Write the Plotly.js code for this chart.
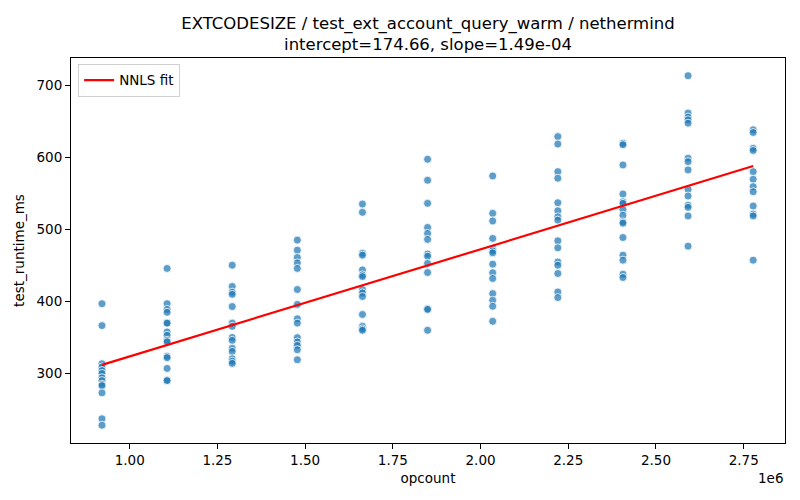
<!DOCTYPE html>
<html>
<head>
<meta charset="utf-8">
<script src="https://cdn.plot.ly/plotly-3.0.1.min.js"></script>
<style>
  html, body { margin: 0; padding: 0; background: #fff; }
  #chart { width: 800px; height: 500px; }
</style>
</head>
<body>
<div id="chart"></div>
<script>
// opcount levels (one column of runs each)
let opcounts = [921000, 1106600, 1292200, 1477800, 1663400, 1849000,
                2034600, 2220200, 2405800, 2591400, 2777000];

// test_runtime_ms per opcount level
let runtimes = [
    [397, 366.5, 313.5, 309, 304, 300, 294, 290, 285, 283, 273, 237, 228],
    [446, 397, 389, 385, 370, 370, 357.6, 353, 346, 344, 324, 322, 307, 291, 290],
    [450.5, 421, 413, 410, 393, 370, 365.5, 350, 346, 335, 330.6, 320.5, 317, 314],
    [485.4, 471.4, 461.2, 453.7, 446, 416.7, 396, 376, 370, 349.8, 343.7, 339, 333, 319],
    [535.5, 524, 467, 464.5, 444, 437, 434.7, 416.7, 412, 407, 382, 365.5, 362, 360],
    [597.8, 568.6, 536.5, 503, 494.7, 486.4, 466, 463, 453, 440.3, 390, 389, 360],
    [574.6, 522.6, 512, 487.7, 473.8, 470.4, 467.7, 452, 440, 432, 411, 401.7, 393.4, 372.5],
    [629.3, 619, 580.6, 571.4, 537.4, 526.2, 517.8, 513.2, 484.4, 474.6, 455, 450.5, 439, 413.3, 405.5],
    [620, 618, 589.9, 549.5, 538.7, 536.5, 528, 520, 510.8, 509, 489, 464.5, 457.5, 438, 433.4],
    [714, 662, 656.4, 652.6, 648, 599.2, 594.5, 583, 556, 546.7, 534, 531, 519, 477],
    [638.7, 635, 613, 610, 580.6, 570, 559.7, 552.7, 532.8, 521.6, 519, 457.5]
];

// NNLS fit from the title
let intercept = 174.66;
let slope = 1.49e-4;

let tickVals = [1.0e6, 1.25e6, 1.5e6, 1.75e6, 2.0e6, 2.25e6, 2.5e6, 2.75e6];
let tickText = ["1.00", "1.25", "1.50", "1.75", "2.00", "2.25", "2.50", "2.75"];

// scatter points
let points = {
    type: "scatter",
    mode: "markers",
    x: [],
    y: [],
    showlegend: false,
    marker: {
        size: 8,
        color: "rgba(31,119,180,0.72)",
        line: { color: "#ffffff", width: 0.8 }
    },
    hoverinfo: "x+y"
};

for (let i = 0; i < opcounts.length; i++) {
    for (let j = 0; j < runtimes[i].length; j++) {
        points.x.push(opcounts[i]);
        points.y.push(runtimes[i][j]);
    }
}

// fit line
let xMin = opcounts[0];
let xMax = opcounts[opcounts.length - 1];
let fit = {
    type: "scatter",
    mode: "lines",
    name: "NNLS fit",
    x: [xMin, xMax],
    y: [intercept + slope * xMin, intercept + slope * xMax],
    line: { color: "#ff0000", width: 2.2 }
};

let font = { family: "DejaVu Sans, sans-serif", size: 13.5, color: "#000" };

let layout = {
    width: 800,
    height: 500,
    margin: { l: 71, r: 15, t: 58, b: 57 },
    paper_bgcolor: "#fff",
    plot_bgcolor: "#fff",
    font: font,
    title: {
        text: "EXTCODESIZE / test_ext_account_query_warm / nethermind<br>intercept=174.66, slope=1.49e-04",
        font: { family: "DejaVu Sans, sans-serif", size: 16.5, color: "#000" },
        x: 0.535,
        xanchor: "center",
        y: 0.943,
        yanchor: "top"
    },
    xaxis: {
        range: [832700, 2867700],
        tickvals: tickVals,
        ticktext: tickText,
        showgrid: false,
        zeroline: false,
        showline: true,
        linecolor: "#000",
        linewidth: 1,
        mirror: true,
        ticks: "outside",
        ticklen: 5,
        tickcolor: "#000",
        title: { text: "opcount", font: font, standoff: 6 }
    },
    yaxis: {
        range: [203.3, 738.6],
        tickvals: [300, 400, 500, 600, 700],
        showgrid: false,
        zeroline: false,
        showline: true,
        linecolor: "#000",
        linewidth: 1,
        mirror: true,
        ticks: "outside",
        ticklen: 5,
        tickcolor: "#000",
        title: { text: "test_runtime_ms", font: font, standoff: 8 }
    },
    legend: {
        x: 0.01,
        y: 0.985,
        xanchor: "left",
        yanchor: "top",
        bgcolor: "rgba(255,255,255,0.8)",
        bordercolor: "#d0d0d0",
        borderwidth: 1,
        font: font
    },
    annotations: [{
        text: "1e6",
        xref: "paper",
        yref: "paper",
        x: 1,
        y: -0.065,
        xanchor: "right",
        yanchor: "top",
        showarrow: false,
        font: font
    }]
};

Plotly.newPlot("chart", [points, fit], layout, { displayModeBar: false, staticPlot: true });
</script>
</body>
</html>
